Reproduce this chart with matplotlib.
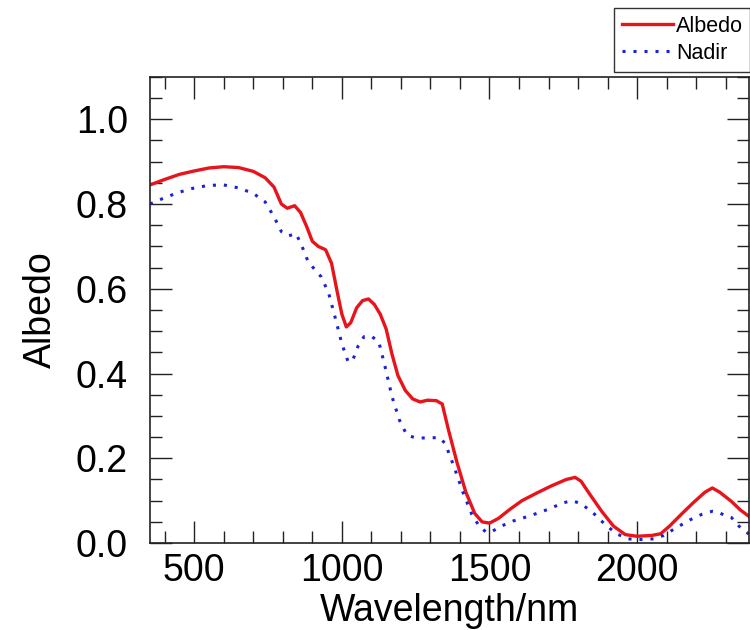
import matplotlib
matplotlib.use("Agg")
import matplotlib.pyplot as plt
from matplotlib.ticker import MultipleLocator

# Red solid curve (Albedo)
albedo_wl = [350, 400, 450, 500, 550, 600, 650, 700, 740, 770, 795, 815, 840,
             860, 880, 900, 920, 945, 965, 985, 1000, 1015, 1030, 1050, 1070,
             1090, 1110, 1130, 1150, 1170, 1190, 1215, 1240, 1265, 1290, 1320,
             1340, 1360, 1390, 1420, 1450, 1475, 1500, 1530, 1570, 1610, 1660,
             1710, 1760, 1790, 1810, 1840, 1880, 1920, 1960, 2000, 2050, 2080,
             2110, 2150, 2190, 2230, 2255, 2280, 2320, 2350, 2381]
albedo_val = [0.845, 0.858, 0.870, 0.878, 0.885, 0.888, 0.886, 0.877, 0.862,
              0.840, 0.800, 0.790, 0.796, 0.780, 0.748, 0.712, 0.700, 0.692,
              0.660, 0.590, 0.540, 0.510, 0.520, 0.555, 0.572, 0.576, 0.563,
              0.540, 0.505, 0.445, 0.395, 0.360, 0.340, 0.333, 0.337, 0.336,
              0.328, 0.270, 0.190, 0.120, 0.070, 0.050, 0.047, 0.058, 0.080,
              0.100, 0.118, 0.135, 0.150, 0.155, 0.146, 0.115, 0.075, 0.040,
              0.020, 0.016, 0.018, 0.022, 0.040, 0.068, 0.095, 0.120, 0.130,
              0.120, 0.098, 0.078, 0.062]

# Blue dotted curve (Nadir)
nadir_wl = [350, 400, 450, 500, 550, 600, 650, 700, 740, 770, 795, 820, 845,
            865, 885, 905, 930, 955, 980, 1000, 1020, 1035, 1055, 1075, 1100,
            1125, 1145, 1170, 1195, 1220, 1250, 1290, 1330, 1350, 1380, 1410,
            1440, 1465, 1490, 1510, 1540, 1580, 1640, 1700, 1750, 1780, 1810,
            1850, 1890, 1930, 1970, 2000, 2060, 2090, 2130, 2180, 2220, 2255,
            2275, 2300, 2320, 2345, 2381]
nadir_val = [0.800, 0.815, 0.828, 0.838, 0.844, 0.845, 0.838, 0.825, 0.805,
             0.770, 0.735, 0.725, 0.730, 0.700, 0.665, 0.648, 0.628, 0.590,
             0.525, 0.470, 0.430, 0.428, 0.465, 0.487, 0.488, 0.475, 0.420,
             0.345, 0.290, 0.255, 0.248, 0.248, 0.249, 0.235, 0.180, 0.120,
             0.068, 0.040, 0.025, 0.028, 0.040, 0.052, 0.065, 0.080, 0.095,
             0.100, 0.093, 0.072, 0.045, 0.022, 0.010, 0.008, 0.010, 0.018,
             0.035, 0.055, 0.068, 0.075, 0.073, 0.064, 0.060, 0.040, 0.020]

plt.rcParams.update({
    "font.family": ["Liberation Sans", "DejaVu Sans"],
    "xtick.direction": "in",
    "ytick.direction": "in",
})

fig = plt.figure(figsize=(7.5, 6.3), dpi=100)
ax = fig.add_axes([0.2, 0.138, 0.799, 0.740])

ax.plot(albedo_wl, albedo_val, color="#e8141c", lw=2.4, label="Albedo")
ax.plot(nadir_wl, nadir_val, color="#1a22d6", lw=2.2, ls=(0, (1, 2.6)),
        label="Nadir")

ax.set_xlim(350, 2380)
ax.set_ylim(0, 1.1)
ax.xaxis.set_major_locator(MultipleLocator(500))
ax.xaxis.set_minor_locator(MultipleLocator(100))
ax.yaxis.set_major_locator(MultipleLocator(0.2))
ax.yaxis.set_minor_locator(MultipleLocator(0.05))
ax.yaxis.set_major_formatter(lambda v, _: f"{v:.1f}")
ax.tick_params(which="both", top=True, right=True, width=1, color="#222222",
               labelsize=27)
ax.tick_params(axis="x", pad=7)
ax.tick_params(axis="y", pad=16)
ax.tick_params(which="major", length=16)
ax.tick_params(which="minor", length=8.5)
for sp in ax.spines.values():
    sp.set_linewidth(1.2)
    sp.set_color("#222222")

ax.set_xlabel("Wavelength/nm", fontsize=27, labelpad=3)
ax.set_ylabel("Albedo", fontsize=27, labelpad=12)

ax.legend(loc="upper left", bbox_to_anchor=(614 / 750, 1 - 8 / 630),
          bbox_transform=fig.transFigure, fontsize=15.5, frameon=True,
          fancybox=False, edgecolor="black", handlelength=2.4,
          handletextpad=0.12, borderpad=0.35, labelspacing=0.3,
          borderaxespad=0)

fig.savefig("out.png", dpi=100)
